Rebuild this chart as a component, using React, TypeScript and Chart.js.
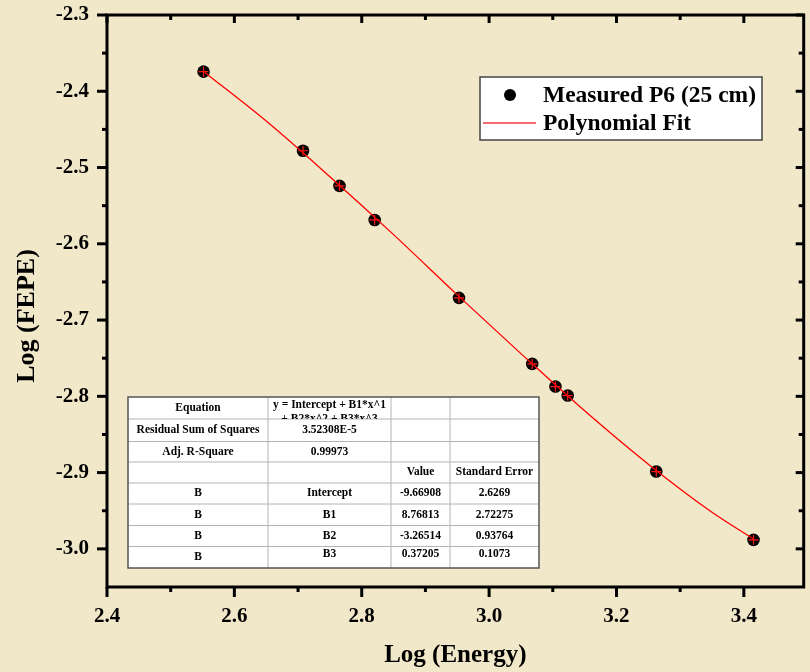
import React, { useEffect, useRef } from "react";
import { Chart, registerables } from "chart.js";

Chart.register(...registerables);

// ---- data ----
const energyLog = [2.5516, 2.7078, 2.7651, 2.8203, 2.9527, 3.0677, 3.1042, 3.1234, 3.2625, 3.4152];
const fepeLog = [-2.3743, -2.478, -2.5241, -2.5687, -2.6709, -2.7575, -2.7872, -2.799, -2.8986, -2.9882];
// fitted curve
const fitEnergyLog = [2.5516, 2.65, 2.75, 2.85, 2.95, 3.05, 3.15, 3.25, 3.35, 3.4152];
const fitFepeLog = [-2.374, -2.439, -2.512, -2.588, -2.667, -2.744, -2.819, -2.889, -2.952, -2.987];

const xMajorTicks = [2.4, 2.6, 2.8, 3.0, 3.2, 3.4];
const xMinorTicks = [2.5, 2.7, 2.9, 3.1, 3.3];
const yMajorTicks = [-3.0, -2.9, -2.8, -2.7, -2.6, -2.5, -2.4, -2.3];
const yMinorTicks = [-2.95, -2.85, -2.75, -2.65, -2.55, -2.45, -2.35];

const seriesMeasured = "Measured P6 (25 cm)";
const seriesFit = "Polynomial Fit";
const xTitle = "Log (Energy)";
const yTitle = "Log (FEPE)";

const tableRows = [
  ["Equation", "y = Intercept + B1*x^1|+ B2*x^2 + B3*x^3", "", ""],
  ["Residual Sum of Squares", "3.52308E-5", "", ""],
  ["Adj. R-Square", "0.99973", "", ""],
  ["", "", "Value", "Standard Error"],
  ["B", "Intercept", "-9.66908", "2.6269"],
  ["B", "B1", "8.76813", "2.72275"],
  ["B", "B2", "-3.26514", "0.93764"],
  ["B", "B3", "0.37205", "0.1073"],
];

const FONT = "'Liberation Serif', 'Times New Roman', serif";
const BG = "#f1e7c9";

const framePlugin = {
  id: "frameTicks",
  afterDraw(chart: any) {
    const { ctx, chartArea, scales } = chart;
    const { left, right, top, bottom } = chartArea;
    const xs = scales.x;
    const ys = scales.y;
    ctx.save();
    ctx.strokeStyle = "#000";
    ctx.lineWidth = 3;
    ctx.lineCap = "butt";
    ctx.strokeRect(left, top, right - left, bottom - top);
    const seg = (x1: number, y1: number, x2: number, y2: number) => {
      ctx.beginPath();
      ctx.moveTo(x1, y1);
      ctx.lineTo(x2, y2);
      ctx.stroke();
    };
    xMajorTicks.forEach((v) => {
      const p = xs.getPixelForValue(v);
      seg(p, bottom, p, bottom + 10);
      seg(p, top, p, top + 8);
    });
    xMinorTicks.forEach((v) => {
      const p = xs.getPixelForValue(v);
      seg(p, bottom, p, bottom + 5);
      seg(p, top, p, top + 5);
    });
    yMajorTicks.forEach((v) => {
      const p = ys.getPixelForValue(v);
      seg(left - 10, p, left, p);
      seg(right - 8, p, right, p);
    });
    yMinorTicks.forEach((v) => {
      const p = ys.getPixelForValue(v);
      seg(left - 5, p, left, p);
      seg(right - 5, p, right, p);
    });
    // y axis title
    ctx.fillStyle = "#000";
    ctx.font = `bold 26px ${FONT}`;
    ctx.textAlign = "center";
    ctx.textBaseline = "middle";
    ctx.translate(27, 316);
    ctx.rotate(-Math.PI / 2);
    ctx.fillText(yTitle, 0, 0);
    ctx.restore();
  },
};

const legendPlugin = {
  id: "insetLegend",
  afterDraw(chart: any) {
    const { ctx } = chart;
    const x0 = 480, y0 = 77, w = 282, h = 63;
    ctx.save();
    ctx.fillStyle = "#fff";
    ctx.fillRect(x0, y0, w, h);
    ctx.strokeStyle = "#444";
    ctx.lineWidth = 1.5;
    ctx.strokeRect(x0, y0, w, h);
    ctx.fillStyle = "#000";
    ctx.beginPath();
    ctx.arc(x0 + 30, y0 + 18, 6, 0, Math.PI * 2);
    ctx.fill();
    ctx.strokeStyle = "#f46a6a";
    ctx.lineWidth = 2;
    ctx.beginPath();
    ctx.moveTo(x0 + 3, y0 + 46);
    ctx.lineTo(x0 + 56, y0 + 46);
    ctx.stroke();
    ctx.fillStyle = "#000";
    ctx.font = `bold 23.5px ${FONT}`;
    ctx.textBaseline = "middle";
    ctx.textAlign = "left";
    ctx.fillText(chart.data.datasets[2].label, x0 + 63, y0 + 19);
    ctx.fillText(chart.data.datasets[0].label, x0 + 63, y0 + 47);
    ctx.restore();
  },
};

const tablePlugin = {
  id: "fitTable",
  afterDraw(chart: any) {
    const { ctx } = chart;
    const cols = [128, 268, 391, 450, 539];
    const rows = [397, 419, 441.5, 462, 483, 504, 525.5, 546.5, 568];
    ctx.save();
    ctx.fillStyle = "#fff";
    ctx.fillRect(cols[0], rows[0], cols[4] - cols[0], rows[8] - rows[0]);
    ctx.strokeStyle = "#b4b4b4";
    ctx.lineWidth = 1;
    for (let i = 1; i < rows.length - 1; i++) {
      ctx.beginPath();
      ctx.moveTo(cols[0], rows[i]);
      ctx.lineTo(cols[4], rows[i]);
      ctx.stroke();
    }
    for (let j = 1; j < cols.length - 1; j++) {
      ctx.beginPath();
      ctx.moveTo(cols[j], rows[0]);
      ctx.lineTo(cols[j], rows[8]);
      ctx.stroke();
    }
    ctx.strokeStyle = "#555";
    ctx.lineWidth = 1.5;
    ctx.strokeRect(cols[0], rows[0], cols[4] - cols[0], rows[8] - rows[0]);
    ctx.fillStyle = "#000";
    ctx.font = `bold 11.5px ${FONT}`;
    ctx.textAlign = "center";
    ctx.textBaseline = "middle";
    tableRows.forEach((row, i) => {
      row.forEach((txt, j) => {
        if (!txt) return;
        const cx = (cols[j] + cols[j + 1]) / 2;
        let cy = (rows[i] + rows[i + 1]) / 2;
        if (txt.includes("|")) {
          const parts = txt.split("|");
          ctx.save();
          ctx.beginPath();
          ctx.rect(cols[j], rows[i], cols[j + 1] - cols[j], rows[i + 1] - rows[i]);
          ctx.clip();
          ctx.fillText(parts[0], cx, rows[i] + 8);
          ctx.fillText(parts[1], cx, rows[i] + 22);
          ctx.restore();
          return;
        }
        if (i === tableRows.length - 1 && j > 0) cy -= 3;
        ctx.fillText(txt, cx, cy);
      });
    });
    ctx.restore();
  },
};

export default function App() {
  const canvasRef = useRef<HTMLCanvasElement | null>(null);

  useEffect(() => {
    document.body.style.margin = "0";
    document.body.style.background = BG;
    const canvas = canvasRef.current;
    if (!canvas) return;
    const measured = energyLog.map((x, i) => ({ x, y: fepeLog[i] }));
    const fit = fitEnergyLog.map((x, i) => ({ x, y: fitFepeLog[i] }));
    const chart = new Chart(canvas, {
      type: "scatter",
      data: {
        datasets: [
          {
            label: seriesFit,
            data: fit,
            showLine: true,
            borderColor: "#ff0000",
            borderWidth: 1.3,
            pointRadius: 0,
            cubicInterpolationMode: "monotone",
            fill: false,
          } as any,
          {
            label: "_marks",
            data: measured,
            pointStyle: "cross",
            pointRadius: 5,
            borderColor: "#ff1a1a",
            borderWidth: 1.2,
            backgroundColor: "#ff1a1a",
          },
          {
            label: seriesMeasured,
            data: measured,
            pointStyle: "circle",
            pointRadius: 6.3,
            backgroundColor: "#000",
            borderColor: "#000",
            borderWidth: 0,
          },
        ],
      },
      options: {
        animation: false,
        responsive: true,
        maintainAspectRatio: false,
        layout: { padding: { top: 15, right: 3, left: 0, bottom: 0 } },
        plugins: {
          legend: { display: false },
          tooltip: { enabled: false },
        },
        scales: {
          x: {
            type: "linear",
            min: 2.4,
            max: 3.494,
            afterBuildTicks: (s: any) => {
              s.ticks = xMajorTicks.map((v) => ({ value: v }));
            },
            afterFit: (s: any) => {
              s.height = 85;
              s.paddingRight = 0;
            },
            grid: { display: false, drawTicks: false },
            border: { display: false },
            ticks: {
              padding: 17,
              color: "#000",
              font: { family: FONT, size: 21, weight: "bold" },
              callback: (v: any) => Number(v).toFixed(1),
              maxRotation: 0,
            },
            title: {
              display: true,
              text: xTitle,
              color: "#000",
              font: { family: FONT, size: 25, weight: "bold" },
              padding: { top: 0, bottom: 1 },
            },
          },
          y: {
            type: "linear",
            min: -3.05,
            max: -2.3,
            afterBuildTicks: (s: any) => {
              s.ticks = yMajorTicks.map((v) => ({ value: v }));
            },
            afterFit: (s: any) => {
              s.width = 107;
              s.paddingTop = 0;
              s.paddingBottom = 0;
            },
            grid: { display: false, drawTicks: false },
            border: { display: false },
            ticks: {
              padding: 18,
              color: "#000",
              font: { family: FONT, size: 21, weight: "bold" },
              callback: (v: any) => Number(v).toFixed(1),
            },
            title: { display: false },
          },
        },
      },
      plugins: [tablePlugin, legendPlugin, framePlugin],
    });
    return () => chart.destroy();
  }, []);

  return (
    <div style={{ width: 810, height: 672, position: "relative", background: BG }}>
      <canvas ref={canvasRef} />
    </div>
  );
}
